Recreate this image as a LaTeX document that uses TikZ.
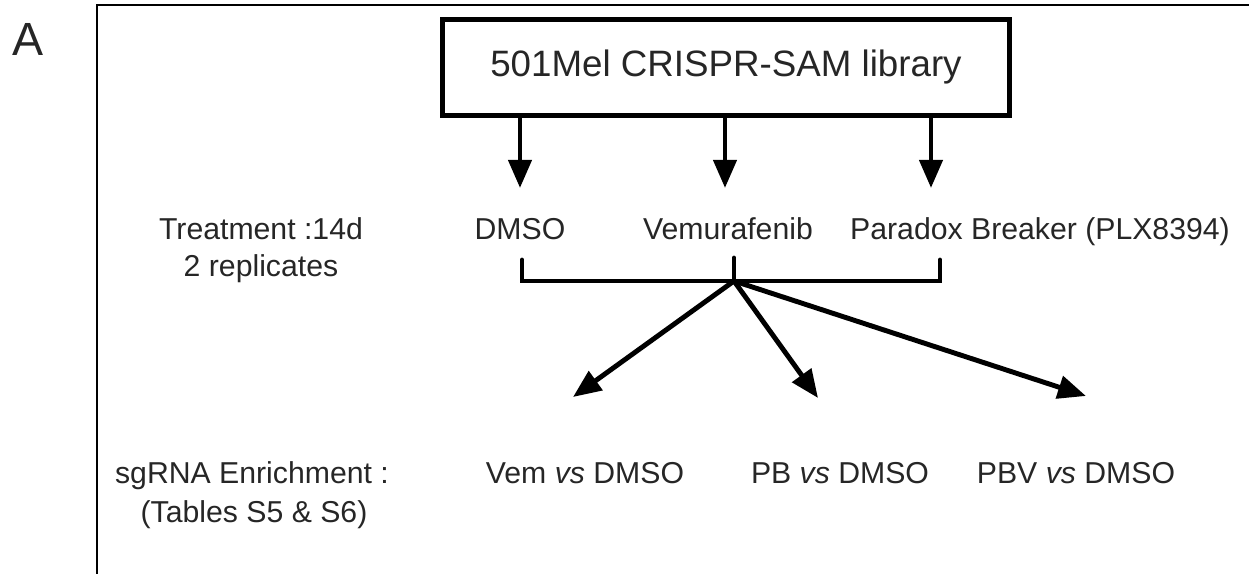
\documentclass[tikz,border=0pt]{standalone}
\usepackage{fontspec}
\setmainfont{Liberation Sans}
\usetikzlibrary{arrows.meta,positioning,calc}

\begin{document}
\begin{tikzpicture}[x=0.02cm,y=-0.02cm,
    lbl/.style={text=black!85, font=\fontsize{17.2}{20}\selectfont, inner sep=0pt, anchor=base},
    bigarrow/.style={line width=2.8pt, -{Triangle[length=16pt,width=13pt]}},
    bar/.style={line width=2.8pt, line cap=round}]
    \useasboundingbox (0,0) rectangle (1249,574);

      % panel letter and open frame
      \node[anchor=base, inner sep=0pt, text=black!85, font=\fontsize{26.5}{30}\selectfont] (panel) at (28,56) {A};
      \coordinate (frametl) at (97,5);
      \draw[line width=1.1pt] (97,574) -- (frametl) -- (1249,5);

      \node[draw, line width=2.8pt, minimum width=11.34cm, minimum height=1.92cm,
            text=black!85, font=\fontsize{20.9}{24}\selectfont] (lib) at (726,67.5) {501Mel CRISPR-SAM library};

      \coordinate (t1) at (520,188);
      \coordinate (t2) at (725,188);
      \coordinate (t3) at (931,188);

      \draw[bigarrow] (lib.south -| t1) -- (t1);
      \draw[bigarrow] (lib.south -| t2) -- (t2);
      \draw[bigarrow] (lib.south -| t3) -- (t3);

      \node[lbl] (treat) at (261,240) {Treatment :14d};
      \node[lbl] (repl) at ($(treat.base)+(0,37)$) {2 replicates};

      \node[lbl] (dmso) at (520,240) {DMSO};
      \node[lbl] (vemu) at (728,240) {Vemurafenib};
      \node[lbl] (pb) at (1040,240) {Paradox Breaker (PLX8394)};

      % bracket
      \coordinate (brl) at (522,260);
      \coordinate (brm) at (734,258);
      \coordinate (brr) at (940,260);
      \coordinate (hub) at (734,281);
      \draw[bar] (brl) -- (brl |- hub) -- (brr |- hub) -- (brr);
      \draw[bar] (brm) -- (hub);

      \coordinate (d1) at (573,397);
      \coordinate (d2) at (818,398);
      \coordinate (d3) at (1086,396);

      \draw[bigarrow] (hub) -- (d1);
      \draw[bigarrow] (hub) -- (d2);
      \draw[bigarrow] (hub) -- (d3);

      \node[lbl] (enrich) at (252,484) {sgRNA Enrichment :};
      \node[lbl] (tables) at ($(enrich.base)+(2,38)$) {(Tables S5 \& S6)};

      \node[lbl] (vemvs) at (585,484) {Vem \textit{vs} DMSO};
      \node[lbl] (pbvs) at (840,484) {PB \textit{vs} DMSO};
      \node[lbl] (pbvvs) at (1076,484) {PBV \textit{vs} DMSO};
\end{tikzpicture}
\end{document}
